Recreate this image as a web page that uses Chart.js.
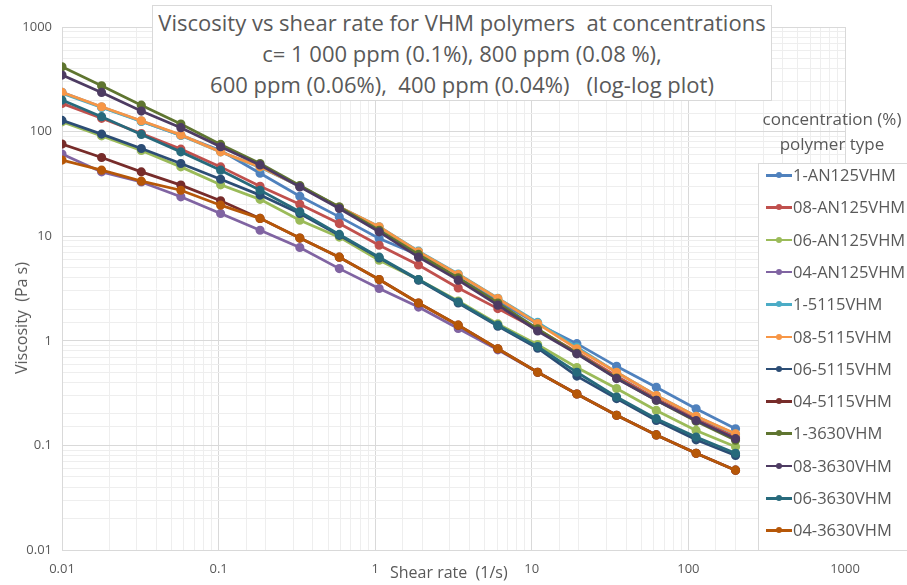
<!DOCTYPE html>
<html>
<head>
<meta charset="utf-8">
<script src="https://cdn.jsdelivr.net/npm/chart.js@4.4.1/dist/chart.umd.min.js"></script>
<style>
  html, body { margin: 0; padding: 0; background: #fff; }
  #wrap { position: relative; width: 907px; height: 585px; overflow: hidden; font-family: "Open Sans", sans-serif; color: #595959; }
  #c { position: absolute; left: 0; top: 0; }
  #titleBox { position: absolute; left: 152px; top: 5px; width: 618px; height: 93px; border: 1px solid #d9d9d9; background: #fff;
    text-align: center; font-size: 22px; line-height: 31px; padding-top: 1px; white-space: pre; }
  #legTitle { position: absolute; left: 757px; top: 106px; width: 150px; text-align: center; font-size: 17px; line-height: 25px; }
  #legBox { position: absolute; left: 758px; top: 163px; width: 160px; height: 386px; border: 1px solid #d9d9d9; background: #fff; }
  .item { position: absolute; left: 0; height: 22px; font-size: 16.5px; line-height: 22px; white-space: nowrap; }
  .mk { position: absolute; left: 7px; top: 10px; width: 26px; height: 2.5px; }
  .dot { position: absolute; left: 17px; top: 8px; width: 6px; height: 6px; border-radius: 50%; }
  .item span { position: absolute; left: 34px; top: 0; }
  #xTitle { position: absolute; left: 390px; top: 561px; font-size: 16px; line-height: 22px; white-space: pre; }
  #yTitle { position: absolute; left: 21px; top: 318px; font-size: 16px; line-height: 20px; white-space: pre;
    transform: translate(-50%, -50%) rotate(-90deg); }
</style>
</head>
<body>
<div id="wrap">
  <canvas id="c" width="907" height="585"></canvas>
  <div id="titleBox">Viscosity vs shear rate for VHM polymers  at concentrations
c= 1 000 ppm (0.1%), 800 ppm (0.08 %),
600 ppm (0.06%),  400 ppm (0.04%)   (log-log plot)</div>
  <div id="legTitle">concentration (%)<br>polymer type</div>
  <div id="legBox"></div>
  <div id="xTitle">Shear rate  (1/s)</div>
  <div id="yTitle">Viscosity  (Pa s)</div>
</div>
<script>
// shear rate points (1/s)
const shearRate = [0.01, 0.0179, 0.0321, 0.0574, 0.103, 0.184, 0.330, 0.590, 1.06, 1.89, 3.39, 6.07, 10.9, 19.4, 34.8, 62.4, 112, 200];

const seriesNames = ['1-AN125VHM', '08-AN125VHM', '06-AN125VHM', '04-AN125VHM',
  '1-5115VHM', '08-5115VHM', '06-5115VHM', '04-5115VHM',
  '1-3630VHM', '08-3630VHM', '06-3630VHM', '04-3630VHM'];

// viscosity (Pa s)
const an125_1  = [238, 172, 126, 92, 66, 40, 24.1, 15.3, 9.5, 6.6, 4.0, 2.4, 1.45, 0.94, 0.57, 0.36, 0.224, 0.144];
const an125_08 = [186, 134, 96, 68, 46, 30, 20.2, 13.2, 8.2, 5.3, 3.2, 2.03, 1.28, 0.78, 0.46, 0.28, 0.18, 0.12];
const an125_06 = [124, 91, 66, 46, 31, 22.5, 14.2, 9.8, 5.9, 3.85, 2.4, 1.45, 0.92, 0.555, 0.35, 0.216, 0.139, 0.097];
const an125_04 = [61, 41.2, 33, 23.8, 16.5, 11.4, 7.8, 4.9, 3.16, 2.1, 1.31, 0.82, 0.50, 0.31, 0.194, 0.126, 0.084, 0.058];
const s5115_1  = [232, 170, 125, 92, 64, 45.5, 30, 19, 12.3, 7.2, 4.35, 2.55, 1.5, 0.87, 0.50, 0.30, 0.19, 0.128];
const s5115_08 = [237, 173, 127, 93, 64, 46, 30, 19, 12.3, 7.1, 4.3, 2.54, 1.46, 0.84, 0.50, 0.30, 0.19, 0.129];
const s5115_06 = [128, 94.6, 69, 49.6, 35, 24.7, 16.5, 10.2, 6.2, 3.8, 2.3, 1.38, 0.85, 0.46, 0.28, 0.173, 0.113, 0.080];
const s5115_04 = [76, 56.6, 41.2, 30.8, 21.8, 14.8, 9.6, 6.3, 3.85, 2.3, 1.41, 0.84, 0.50, 0.31, 0.194, 0.126, 0.084, 0.058];
const s3630_1  = [417, 274, 179, 118, 75.4, 49.6, 30.5, 19, 11.4, 6.7, 4.0, 2.3, 1.3, 0.76, 0.44, 0.27, 0.17, 0.112];
const s3630_08 = [347, 237, 157, 109, 71.6, 48, 29.6, 18.4, 11.0, 6.3, 3.8, 2.19, 1.24, 0.75, 0.435, 0.27, 0.173, 0.116];
const s3630_06 = [200, 139, 94, 64, 42.8, 27.5, 17.1, 10.4, 6.3, 3.85, 2.35, 1.41, 0.88, 0.50, 0.29, 0.18, 0.12, 0.084];
const s3630_04 = [53.4, 42.8, 33.6, 27.5, 19.8, 14.8, 9.6, 6.3, 3.85, 2.3, 1.41, 0.84, 0.50, 0.31, 0.194, 0.126, 0.084, 0.058];

const seriesValues = [an125_1, an125_08, an125_06, an125_04, s5115_1, s5115_08, s5115_06, s5115_04,
  s3630_1, s3630_08, s3630_06, s3630_04];

const seriesColors = ['#4F81BD', '#C0504D', '#9BBB59', '#8064A2', '#4BACC6', '#F79646',
  '#2C4D75', '#772C2A', '#5F7530', '#4D3B62', '#276A7C', '#B65708'];

const xTickLabels = ['0.01', '0.1', '1', '10', '100', '1000'];
const yTickLabels = ['0.01', '0.1', '1', '10', '100', '1000'];

function isDecade(v) {
  const l = Math.log10(v);
  return Math.abs(l - Math.round(l)) < 1e-6;
}
function decadeLabel(v, labels) {
  if (!isDecade(v)) return '';
  const i = Math.round(Math.log10(v)) + 2;
  return labels[i] ?? '';
}

Chart.defaults.font.family = '"Open Sans", sans-serif';
Chart.defaults.color = '#595959';

const datasets = seriesNames.map((name, i) => ({
  label: name,
  data: shearRate.map((x, j) => ({ x, y: seriesValues[i][j] })),
  borderColor: seriesColors[i],
  backgroundColor: seriesColors[i],
  borderWidth: 2.75,
  pointRadius: 3.2,
  pointHoverRadius: 3.2,
  tension: 0,
  order: seriesNames.length - i
}));

new Chart(document.getElementById('c'), {
  type: 'line',
  data: { datasets },
  options: {
    responsive: false,
    animation: false,
    layout: { padding: { left: 0, right: 62, top: 27, bottom: 0 } },
    plugins: { legend: { display: false }, tooltip: { enabled: false } },
    scales: {
      x: {
        type: 'logarithmic', min: 0.01, max: 1000,
        border: { color: '#d9d9d9' },
        grid: { color: c => isDecade(c.tick.value) ? '#d9d9d9' : '#eeeeee', drawTicks: false },
        ticks: { autoSkip: false, maxRotation: 0, padding: 11, font: { size: 13 },
          callback: v => decadeLabel(v, xTickLabels) },
        afterFit: s => { s.height = 35; }
      },
      y: {
        type: 'logarithmic', min: 0.01, max: 1000,
        border: { color: '#d9d9d9' },
        grid: { color: c => isDecade(c.tick.value) ? '#d9d9d9' : '#eeeeee', drawTicks: false },
        ticks: { autoSkip: false, padding: 10, font: { size: 13 },
          callback: v => decadeLabel(v, yTickLabels) },
        afterFit: s => { s.width = 62; }
      }
    }
  }
});

// legend list
const legBox = document.getElementById('legBox');
seriesNames.forEach((name, i) => {
  const it = document.createElement('div');
  it.className = 'item';
  it.style.top = (175 + i * 32.3 - 164 - 11) + 'px';
  it.innerHTML = `<div class="mk" style="background:${seriesColors[i]}"></div>` +
    `<div class="dot" style="background:${seriesColors[i]}"></div><span>${name}</span>`;
  legBox.appendChild(it);
});
</script>
</body>
</html>
